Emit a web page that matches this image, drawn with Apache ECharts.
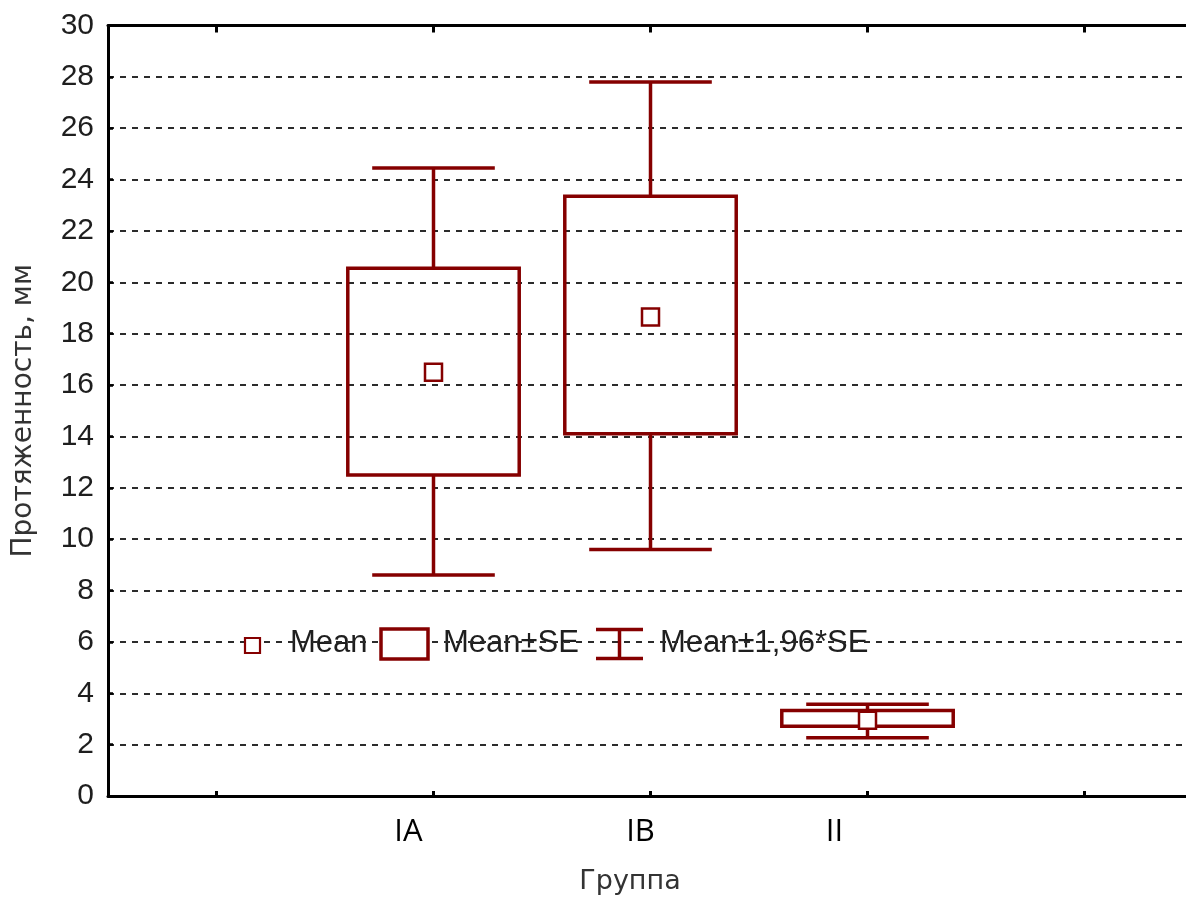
<!DOCTYPE html>
<html><head><meta charset="utf-8">
<script src="https://cdn.jsdelivr.net/npm/echarts@6/dist/echarts.min.js"></script>
<style>html,body{margin:0;padding:0;background:#fff}#c{width:1186px;height:900px}</style>
</head><body><div id="c"></div>
<script>
// ---- data ----
const groups = ['IA', 'IB', 'II'];
const groupPos = [1.5, 2.5, 3.5];            // positions of the groups on the x scale
const xTickPos = [0.5, 1.5, 2.5, 3.5, 4.5];  // tick marks on the x axes
const xMin = 0, xMax = 4.9677;
const means  = [16.5, 18.65, 2.95];
const seLow  = [12.5, 14.1, 2.72];
const seHigh = [20.55, 23.35, 3.33];
const ciLow  = [8.6, 9.6, 2.27];
const ciHigh = [24.45, 27.8, 3.57];
const yTicksMin = 0, yTicksMax = 30, yTickStep = 2;
const legendLabels = ['Mean', 'Mean±SE', 'Mean±1,96*SE'];
const yTitle = 'Протяженность, мм';
const xTitle = 'Группа';

const RED = '#850000';
const TXT = '#1e1e1e';

const seriesData = groupPos.map((gp, i) => [gp, means[i], seLow[i], seHigh[i], ciLow[i], ciHigh[i]]);

function renderItem(params, api) {
  const x = api.value(0);
  const pMean = api.coord([x, api.value(1)]);
  const pSeL = api.coord([x, api.value(2)]);
  const pSeH = api.coord([x, api.value(3)]);
  const pCiL = api.coord([x, api.value(4)]);
  const pCiH = api.coord([x, api.value(5)]);
  const band = api.size([1, 0])[0];
  const bw = band * 0.79, cw = band * 0.565;
  const cx = pMean[0];
  const st = {stroke: RED, lineWidth: 3.5, fill: null};
  return {type: 'group', children: [
    {type: 'line', shape: {x1: cx, y1: pCiH[1], x2: cx, y2: pSeH[1]}, style: st},
    {type: 'line', shape: {x1: cx, y1: pSeL[1], x2: cx, y2: pCiL[1]}, style: st},
    {type: 'line', shape: {x1: cx - cw / 2, y1: pCiH[1], x2: cx + cw / 2, y2: pCiH[1]}, style: st},
    {type: 'line', shape: {x1: cx - cw / 2, y1: pCiL[1], x2: cx + cw / 2, y2: pCiL[1]}, style: st},
    {type: 'rect', shape: {x: cx - bw / 2, y: pSeH[1], width: bw, height: pSeL[1] - pSeH[1]},
     style: {stroke: RED, lineWidth: 3.5, fill: 'none'}},
    {type: 'rect', shape: {x: cx - 8.5, y: pMean[1] - 8.5, width: 17, height: 17},
     style: {stroke: RED, lineWidth: 2.5, fill: '#fff'}}
  ]};
}

const labelShift = {IA: 'a', IB: 'b', II: 'c'};
const labelFont = {fontFamily: 'Open Sans', fontSize: 31, color: '#000'};
function groupName(v) {
  const i = groupPos.indexOf(v);
  return i >= 0 ? groups[i] : '';
}

const chart = echarts.init(document.getElementById('c'), null, {renderer: 'canvas'});
chart.setOption({
  animation: false,
  backgroundColor: '#fff',
  grid: {left: 108, right: 0, top: 25.5, bottom: 103, containLabel: false},
  xAxis: [{
    type: 'value', min: xMin, max: xMax, position: 'bottom',
    name: xTitle, nameLocation: 'middle', nameGap: 72,
    nameTextStyle: {fontFamily: 'DejaVu Sans', fontSize: 27, color: '#333', padding: [0, 34, 0, 0]},
    axisLine: {show: true, onZero: false, lineStyle: {color: '#000', width: 3}},
    axisTick: {show: true, inside: true, customValues: xTickPos, length: 5, lineStyle: {color: '#000', width: 3}},
    axisLabel: {
      margin: 21, customValues: groupPos, showMinLabel: true, showMaxLabel: true,
      formatter: v => { const n = groupName(v); return n ? '{' + labelShift[n] + '|' + n + '}' : ''; },
      rich: {
        a: Object.assign({padding: [0, 50, 0, 0]}, labelFont),
        b: Object.assign({padding: [0, 20, 0, 0]}, labelFont),
        c: Object.assign({padding: [0, 66, 0, 0]}, labelFont)
      }
    },
    splitLine: {show: false}
  }, {
    type: 'value', min: xMin, max: xMax, position: 'top',
    axisLine: {show: true, onZero: false, lineStyle: {color: '#000', width: 3}},
    axisTick: {show: true, inside: true, customValues: xTickPos, length: 7, lineStyle: {color: '#000', width: 3}},
    axisLabel: {show: false},
    splitLine: {show: false}
  }],
  yAxis: {
    type: 'value', min: yTicksMin, max: yTicksMax, interval: yTickStep,
    name: yTitle, nameLocation: 'middle', nameGap: 70,
    nameTextStyle: {fontFamily: 'DejaVu Sans', fontSize: 28, color: '#333'},
    axisLine: {show: true, onZero: false, lineStyle: {color: '#000', width: 3}},
    axisTick: {show: true, inside: true, length: 5, lineStyle: {color: '#000', width: 2.5}},
    axisLabel: {fontFamily: 'Liberation Sans', fontSize: 30, color: TXT, margin: 14},
    splitLine: {show: true, lineStyle: {color: '#2b2b2b', width: 2, type: [6, 6]}}
  },
  series: [{
    type: 'custom', name: 'box', renderItem: renderItem, data: seriesData,
    encode: {x: 0, y: [1, 2, 3, 4, 5]}, z: 10, clip: false
  }],
  graphic: [
    {type: 'rect', z: 100, shape: {x: 245, y: 638, width: 15, height: 15}, style: {stroke: RED, lineWidth: 2.2, fill: '#fff'}},
    {type: 'text', z: -1, style: {x: 290, y: 643, text: legendLabels[0], font: '31px "Liberation Sans"', fill: TXT, verticalAlign: 'middle'}},
    {type: 'rect', z: 100, shape: {x: 381, y: 629, width: 47, height: 30}, style: {stroke: RED, lineWidth: 3.5, fill: '#fff'}},
    {type: 'text', z: -1, style: {x: 443, y: 643, text: legendLabels[1], font: '31px "Liberation Sans"', fill: TXT, verticalAlign: 'middle'}},
    {type: 'line', z: 100, shape: {x1: 596, y1: 629.5, x2: 643, y2: 629.5}, style: {stroke: RED, lineWidth: 3.5}},
    {type: 'line', z: 100, shape: {x1: 596, y1: 658.5, x2: 643, y2: 658.5}, style: {stroke: RED, lineWidth: 3.5}},
    {type: 'line', z: 100, shape: {x1: 619.5, y1: 629.5, x2: 619.5, y2: 658.5}, style: {stroke: RED, lineWidth: 3.5}},
    {type: 'text', z: -1, style: {x: 660, y: 643, text: legendLabels[2], font: '31px "Liberation Sans"', fill: TXT, verticalAlign: 'middle'}}
  ]
});
</script>
</body></html>
